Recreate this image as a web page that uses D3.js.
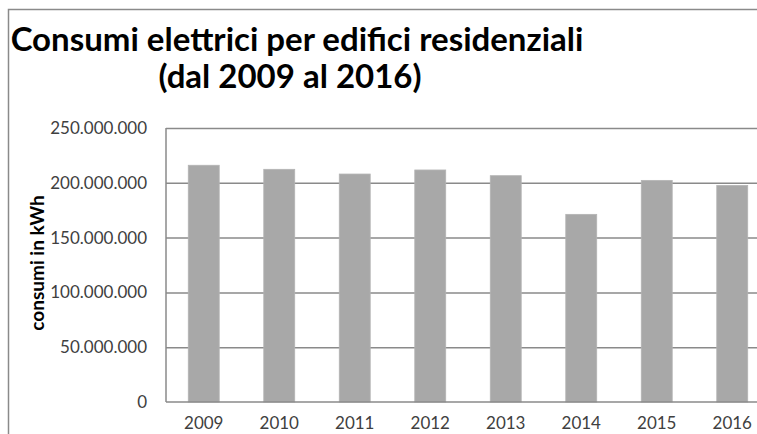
<html>
<head>
  <script src="https://d3js.org/d3.v7.min.js"></script>
  <style>
    body { margin: 0; background: #fff; }
    .gridlines line { stroke: #8a8a8a; stroke-width: 1.5px; }
    .gridlines .domain { stroke: none; }
    .axis text { font-family: Lato, sans-serif; font-size: 17px; fill: #404040; }
    .axis .domain { stroke: #8a8a8a; stroke-width: 1.5px; }
  </style>
</head>
<body>
  <svg id="chart" width="757" height="434"></svg>
  <script>
    const years = ["2009", "2010", "2011", "2012", "2013", "2014", "2015", "2016"];
    const consumi = [216000000, 212300000, 208000000, 211700000, 206500000, 171200000, 202200000, 197600000];
    const yTicks = [0, 50000000, 100000000, 150000000, 200000000, 250000000];

    const svg = d3.select("svg#chart");
    const margin = { top: 128, left: 166, bottom: 32 };
    const plotRight = 770;
    const plotBottom = 402;

    const it = d3.formatLocale({ decimal: ",", thousands: ".", grouping: [3], currency: ["", "€"] });
    const fmt = it.format(",");

    const data = years.map((y, i) => ({ year: y, value: consumi[i] }));

    const xScale = d3.scaleBand().domain(years)
      .range([margin.left, plotRight])
      .paddingInner(0.59).paddingOuter(0.295);
    const yScale = d3.scaleLinear().domain([0, 250000000]).range([plotBottom, margin.top]);

    // outer chart frame
    svg.append("rect")
      .attr("x", 8.5).attr("y", 9.5)
      .attr("width", 800).attr("height", 500)
      .style("fill", "none").style("stroke", "#8a8a8a").style("stroke-width", 1.5);

    // gridlines
    svg.append("g")
      .attr("class", "gridlines")
      .attr("transform", "translate(" + margin.left + ",0)")
      .call(d3.axisLeft(yScale).tickValues(yTicks.slice(1)).tickSize(-(plotRight - margin.left)).tickFormat(""));

    // bars
    svg.append("g").selectAll("rect").data(data)
      .join("rect")
      .attr("x", d => xScale(d.year))
      .attr("y", d => yScale(d.value))
      .attr("width", xScale.bandwidth())
      .attr("height", d => plotBottom - yScale(d.value))
      .style("fill", "#a8a8a8")
      .style("stroke", "#b4b4b4")
      .style("stroke-width", 0.8);

    // y axis
    const yAxis = svg.append("g")
      .attr("class", "axis")
      .attr("transform", "translate(" + margin.left + ",0)")
      .call(d3.axisLeft(yScale).tickValues(yTicks).tickSize(0).tickPadding(19).tickFormat(fmt));
    yAxis.select(".domain").attr("d", "M0," + margin.top + "V" + plotBottom);

    // x axis
    const xAxis = svg.append("g")
      .attr("class", "axis")
      .attr("transform", "translate(0," + plotBottom + ")")
      .call(d3.axisBottom(xScale).tickSize(0).tickPadding(15));
    xAxis.select(".domain").attr("d", "M" + margin.left + ",0H" + plotRight);

    // y axis title
    svg.append("text")
      .text("consumi in kWh")
      .attr("transform", "translate(44,263) rotate(-90)")
      .attr("text-anchor", "middle")
      .style("font-family", "Lato, sans-serif")
      .style("font-weight", "bold")
      .style("font-size", "19px")
      .style("fill", "#000");

    // title
    const title = svg.append("text")
      .attr("text-anchor", "middle")
      .style("font-family", "Lato, sans-serif")
      .style("font-weight", "bold")
      .style("font-size", "33px")
      .style("fill", "#000");
    title.append("tspan").attr("x", 297).attr("y", 51).text("Consumi elettrici per edifici residenziali");
    title.append("tspan").attr("x", 290).attr("y", 88).text("(dal 2009 al 2016)");
  </script>
</body>
</html>
